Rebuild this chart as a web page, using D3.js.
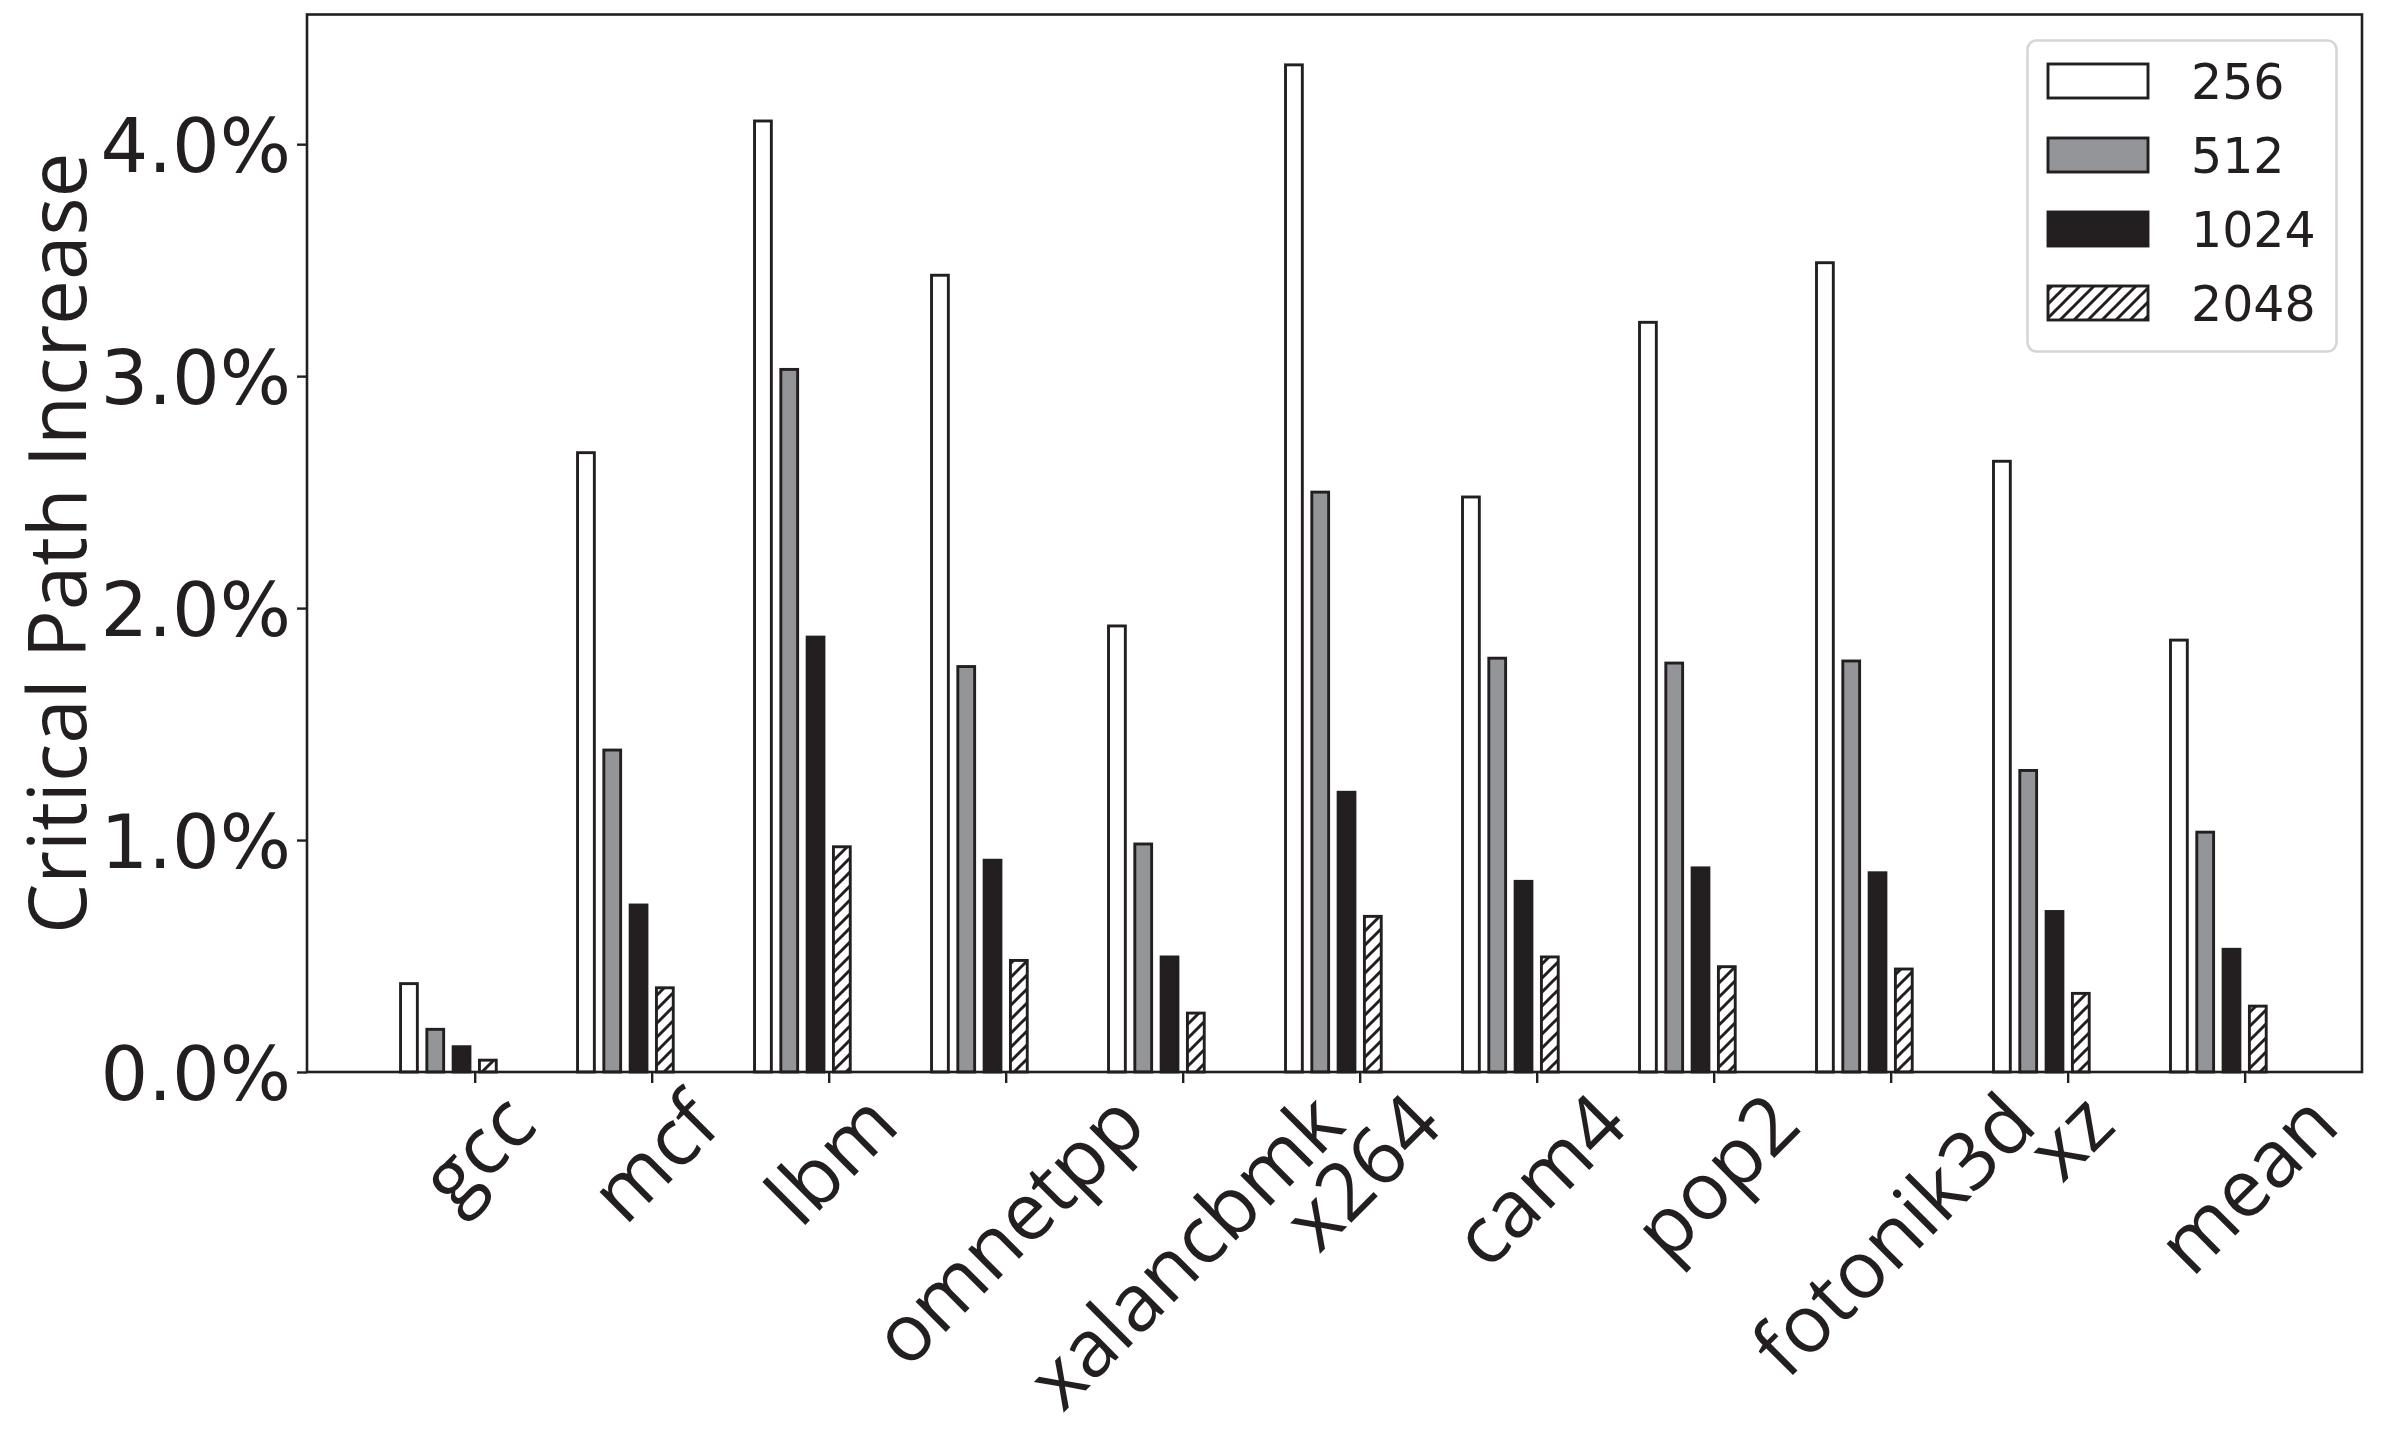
<!DOCTYPE html>
<html>
<head>
<meta charset="utf-8">
<script src="https://cdn.jsdelivr.net/npm/d3@7"></script>
<style>
  html, body { margin: 0; padding: 0; background: #fff; }
  svg { display: block; }
</style>
</head>
<body>
<svg id="chart" width="2386" height="1433"></svg>
<script>
// ---- data ----
const categories = ["gcc", "mcf", "lbm", "omnetpp", "xalancbmk", "x264", "cam4", "pop2", "fotonik3d", "xz", "mean"];
const seriesNames = ["256", "512", "1024", "2048"];
const s256  = [0.381, 2.670, 4.100, 3.435, 1.923, 4.342, 2.479, 3.232, 3.489, 2.633, 1.862];
const s512  = [0.184, 1.388, 3.029, 1.748, 0.983, 2.500, 1.784, 1.763, 1.772, 1.300, 1.034];
const s1024 = [0.109, 0.720, 1.875, 0.913, 0.496, 1.206, 0.822, 0.880, 0.859, 0.692, 0.529];
const s2048 = [0.051, 0.363, 0.971, 0.481, 0.254, 0.671, 0.496, 0.454, 0.444, 0.339, 0.284];
const yTicks = [0, 1, 2, 3, 4];
const yLabel = "Critical Path Increase";

const seriesValues = [s256, s512, s1024, s2048];

(function () {
// ---- style ----
const ink = "#231f20";
const fills = ["#ffffff", "#939598", ink, "url(#hatch)"];
const svg = d3.select("#chart");

const pLeft = 307, pRight = 2362, pTop = 14.5, pBottom = 1072;
const barStep = 0.1486, barWidth = 0.095;

const x = d3.scaleLinear().domain([-0.9475, 10.663]).range([pLeft, pRight]);
const yMax = d3.max(seriesValues.flat()) * 1.05;
const y = d3.scaleLinear().domain([0, yMax]).range([pBottom, pTop]);

// hatch pattern
const defs = svg.append("defs");
const P = 14;
const pat = defs.append("pattern").attr("id", "hatch")
  .attr("patternUnits", "userSpaceOnUse").attr("width", P).attr("height", P);
pat.append("rect").attr("width", P).attr("height", P).attr("fill", "#fff");
pat.append("path")
  .attr("d", `M${-P/2},${P/2} L${P/2},${-P/2} M0,${P} L${P},0 M${P/2},${P*1.5} L${P*1.5},${P/2}`)
  .attr("stroke", ink).attr("stroke-width", 3).attr("stroke-linecap", "square");

// bars
seriesValues.forEach((vals, k) => {
  svg.append("g").selectAll("rect").data(vals).join("rect")
    .attr("x", (d, i) => x(i + (k - 2.5) * barStep - barWidth / 2))
    .attr("width", x(barWidth) - x(0))
    .attr("y", d => y(d))
    .attr("height", d => y(0) - y(d))
    .attr("fill", fills[k])
    .attr("stroke", ink)
    .attr("stroke-width", 2.9);
});

// y axis
const yAxis = svg.append("g").attr("transform", `translate(${pLeft},0)`)
  .call(d3.axisLeft(y).tickValues(yTicks).tickFormat(d => d3.format(".1f")(d) + "%").tickSize(10).tickPadding(6));
yAxis.select(".domain").remove();
yAxis.selectAll(".tick line").attr("stroke", ink).attr("stroke-width", 2.4);
yAxis.selectAll(".tick text")
  .attr("fill", ink)
  .style("font-family", "'DejaVu Sans'")
  .style("font-size", "75px")
  .attr("dy", "0.36em");

// x axis
const xAxis = svg.append("g").attr("transform", `translate(0,${pBottom})`)
  .call(d3.axisBottom(x).tickValues(d3.range(categories.length)).tickFormat(i => categories[i]).tickSize(11));
xAxis.select(".domain").remove();
xAxis.selectAll(".tick line").attr("stroke", ink).attr("stroke-width", 2.4);
const fsX = 80;
const aX = 1.069 * fsX, dX = 0.293 * fsX, y0 = 1068 - pBottom;
const r2 = Math.SQRT2;
xAxis.selectAll(".tick text")
  .attr("fill", ink)
  .style("font-family", "'Open Sans'")
  .style("font-size", fsX + "px")
  .attr("text-anchor", "start")
  .attr("dy", null)
  .attr("y", 0)
  .each(function () {
    const L = this.getComputedTextLength();
    const W = (L + aX + dX) / r2;
    const sx = -W / 2 + aX / r2;
    const sy = y0 + (L + aX) / r2;
    d3.select(this).attr("transform", `translate(${sx},${sy}) rotate(-45)`);
  });

// frame
svg.append("rect")
  .attr("x", pLeft).attr("y", pTop)
  .attr("width", pRight - pLeft).attr("height", pBottom - pTop)
  .attr("fill", "none").attr("stroke", ink).attr("stroke-width", 2.6);

// y label
svg.append("text")
  .attr("transform", `translate(86,${(pTop + pBottom) / 2}) rotate(-90)`)
  .attr("text-anchor", "middle")
  .attr("fill", ink)
  .style("font-family", "'Open Sans'")
  .style("font-size", "80px")
  .text(yLabel);

// legend
const lg = svg.append("g");
lg.append("rect")
  .attr("x", 2027.5).attr("y", 40.5).attr("width", 309).attr("height", 311).attr("rx", 9)
  .attr("fill", "#fff").attr("stroke", "#d6d6d6").attr("stroke-width", 2.6);
const rowY = d3.scalePoint().domain(seriesNames).range([81, 303]);
seriesNames.forEach((name, k) => {
  lg.append("rect")
    .attr("x", 2048).attr("y", rowY(name) - 17)
    .attr("width", 100).attr("height", 34)
    .attr("fill", fills[k]).attr("stroke", ink).attr("stroke-width", 2.9);
  lg.append("text")
    .attr("x", 2191).attr("y", rowY(name))
    .attr("dy", "0.36em")
    .attr("fill", ink)
    .style("font-family", "'DejaVu Sans'")
    .style("font-size", "49px")
    .text(name);
});
})();
</script>
</body>
</html>
